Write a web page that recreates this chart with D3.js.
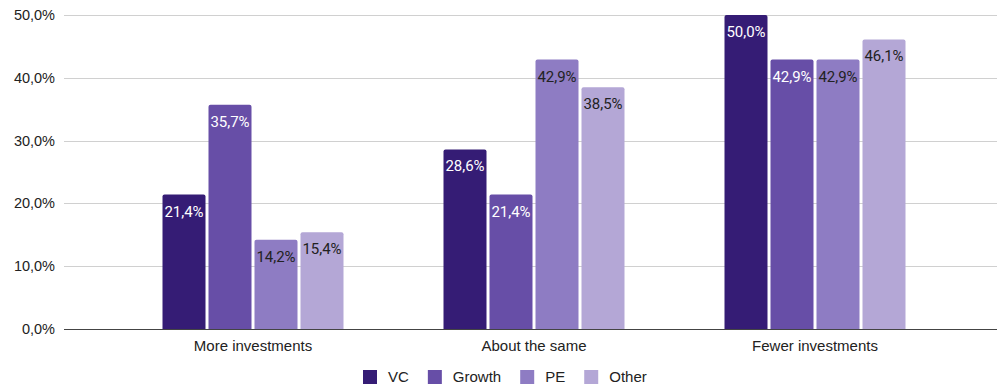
<!DOCTYPE html>
<html>
<head>
<meta charset="utf-8">
<script src="https://cdn.jsdelivr.net/npm/d3@7"></script>
<style>
  html, body { margin: 0; padding: 0; background: #fff; }
  svg { display: block; }
</style>
</head>
<body>
<svg id="chart" width="997" height="386"></svg>
<script>
// data
var categories = ['More investments', 'About the same', 'Fewer investments'];
var seriesNames = ['VC', 'Growth', 'PE', 'Other'];
var vcValues = [21.4, 28.6, 50.0];
var growthValues = [35.7, 21.4, 42.9];
var peValues = [14.2, 42.9, 42.9];
var otherValues = [15.4, 38.5, 46.1];
var yTicks = [0, 10, 20, 30, 40, 50];

var colors = ['#351c75', '#674ea7', '#8e7cc3', '#b4a7d6'];
var labelColors = ['#fff', '#fff', '#222', '#222'];

var allValues = [vcValues, growthValues, peValues, otherValues];

var svg = d3.select('#chart');
var plotLeft = 64, plotRight = 997, plotTop = 15, plotBottom = 329;

var fmt = function(v){ return v.toFixed(1).replace('.', ',') + '%'; };

var y = d3.scaleLinear().domain([0, 50]).range([plotBottom, plotTop]);
var x0 = d3.scaleBand().domain(categories).range([112.5, 955.5]);
var groupW = 181;
var x1 = d3.scaleBand().domain(seriesNames)
  .range([x0.bandwidth()/2 - groupW/2, x0.bandwidth()/2 + groupW/2])
  .paddingInner(3/46);

// gridlines
svg.append('g').selectAll('line')
  .data(yTicks.filter(function(t){ return t > 0; }))
  .join('line')
  .attr('x1', plotLeft).attr('x2', plotRight)
  .attr('y1', function(d){ return Math.round(y(d)) + 0.5; })
  .attr('y2', function(d){ return Math.round(y(d)) + 0.5; })
  .attr('stroke', '#d0d0d0').attr('stroke-width', 1);

// y axis labels
svg.append('g').selectAll('text')
  .data(yTicks)
  .join('text')
  .attr('x', 55)
  .attr('y', function(d){ return y(d); })
  .attr('dy', '0.35em')
  .attr('text-anchor', 'end')
  .style('font-family', 'Liberation Sans, Arial, sans-serif')
  .style('font-size', '14.5px')
  .style('fill', '#222')
  .text(function(d){ return d.toFixed(1).replace('.', ',') + '%'; });

// bars
var rows = [];
categories.forEach(function(c, ci){
  seriesNames.forEach(function(s, si){
    rows.push({cat: c, series: s, si: si, value: allValues[si][ci]});
  });
});

var bars = svg.append('g');
bars.selectAll('path')
  .data(rows)
  .join('path')
  .attr('d', function(d){
    var bx = x0(d.cat) + x1(d.series), bw = x1.bandwidth();
    var top = y(d.value), bot = y(0), r = 2;
    return 'M' + bx + ',' + bot + 'V' + (top + r) + 'Q' + bx + ',' + top + ' ' + (bx + r) + ',' + top +
      'H' + (bx + bw - r) + 'Q' + (bx + bw) + ',' + top + ' ' + (bx + bw) + ',' + (top + r) + 'V' + bot + 'Z';
  })
  .attr('fill', function(d){ return colors[d.si]; });

// data labels
bars.selectAll('text')
  .data(rows)
  .join('text')
  .attr('x', function(d){ return x0(d.cat) + x1(d.series) + x1.bandwidth()/2; })
  .attr('y', function(d){ return y(d.value) + 22; })
  .attr('text-anchor', 'middle')
  .style('font-family', 'Roboto, sans-serif')
  .style('font-size', '15px')
  .style('fill', function(d){ return labelColors[d.si]; })
  .text(function(d){ return fmt(d.value); });

// baseline
svg.append('line')
  .attr('x1', plotLeft).attr('x2', plotRight)
  .attr('y1', plotBottom + 0.5).attr('y2', plotBottom + 0.5)
  .attr('stroke', '#444').attr('stroke-width', 1.2);

// category labels
svg.append('g').selectAll('text')
  .data(categories)
  .join('text')
  .attr('x', function(d){ return x0(d) + x0.bandwidth()/2; })
  .attr('y', 351)
  .attr('text-anchor', 'middle')
  .style('font-family', 'Liberation Sans, Arial, sans-serif')
  .style('font-size', '15px')
  .style('fill', '#222')
  .text(function(d){ return d; });

// legend
var legend = svg.append('g');
var lx = 363;
seriesNames.forEach(function(s, i){
  legend.append('rect')
    .attr('x', lx).attr('y', 370).attr('width', 14).attr('height', 14)
    .attr('fill', colors[i]);
  var t = legend.append('text')
    .attr('x', lx + 25).attr('y', 382)
    .style('font-family', 'Liberation Sans, Arial, sans-serif')
    .style('font-size', '15px')
    .style('fill', '#222')
    .text(s);
  lx += 25 + t.node().getComputedTextLength() + 19;
});
</script>
</body>
</html>
